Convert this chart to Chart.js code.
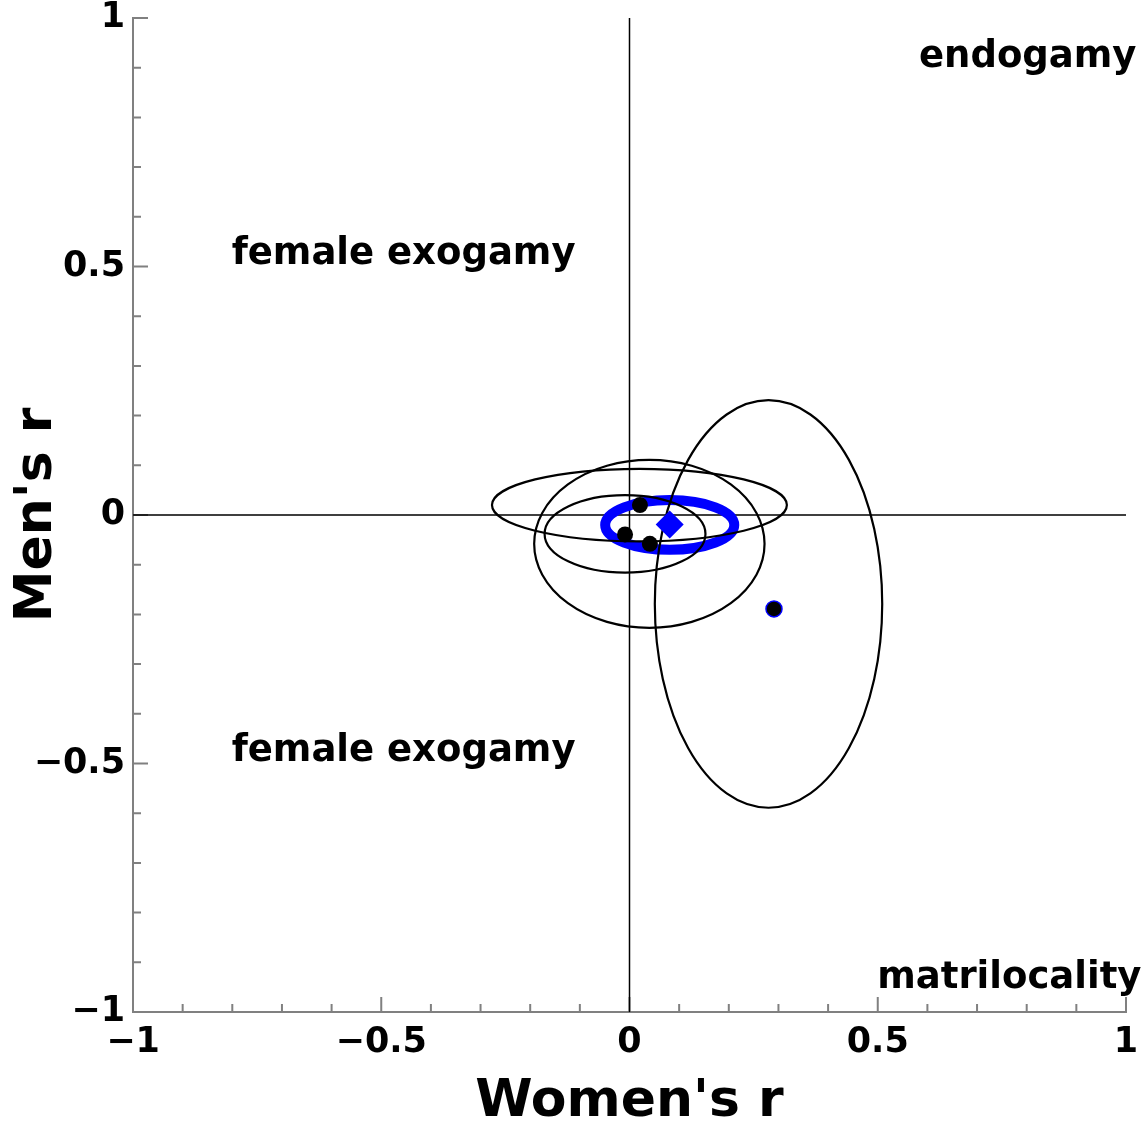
<!DOCTYPE html>
<html>
<head>
<meta charset="utf-8">
<script src="https://cdn.jsdelivr.net/npm/chart.js@4.4.0/dist/chart.umd.min.js"></script>
<style>
  body { margin: 0; background: #fff; }
  #wrap { width: 1144px; height: 1123px; }
</style>
</head>
<body>
<div id="wrap"><canvas id="chart" width="1144" height="1123"></canvas></div>
<script>
// Women's r vs Men's r, population estimates with confidence ellipses

// black population ellipses (centre and half-widths, in r units)
const ellipseCenterX = [0.280, 0.020, 0.040, -0.009];
const ellipseCenterY = [-0.179, 0.020, -0.058, -0.038];
const ellipseRadiusX = [0.229, 0.297, 0.232, 0.162];
const ellipseRadiusY = [0.410, 0.073, 0.169, 0.078];

// blue ellipse round the overall mean
const meanEllipseCenter = [0.081, -0.020];
const meanEllipseRadius = [0.130, 0.050];

// population points
const popX = [0.021, -0.009, 0.041];
const popY = [0.020, -0.039, -0.058];
const outlierX = [0.291];
const outlierY = [-0.189];
const meanX = [0.081];
const meanY = [-0.019];

const tickValues = [-1, -0.5, 0, 0.5, 1];

// region labels
const regionText = ['endogamy', 'female exogamy', 'female exogamy', 'matrilocality'];
const regionX = [0.802, -0.455, -0.455, 0.765];
const regionY = [0.902, 0.506, -0.494, -0.952];

const FONT = "'DejaVu Sans', sans-serif";

function fmtTick(v) {
    if (v === 0) return '0';
    const s = String(Math.abs(v));
    return v < 0 ? '\u2212' + s : s;
}

function toPoints(xs, ys) {
    return xs.map((x, i) => ({ x: x, y: ys[i] }));
}

// zero lines, ellipses, inward ticks and region labels
const overlayPlugin = {
    id: 'overlay',
    beforeDatasetsDraw(chart) {
        const ctx = chart.ctx;
        const xs = chart.scales.x;
        const ys = chart.scales.y;
        const area = chart.chartArea;

        ctx.save();

        // inward tick marks, minor every 0.1
        ctx.strokeStyle = '#808080';
        ctx.lineWidth = 2;
        for (let i = -10; i <= 10; i++) {
            const v = i / 10;
            const len = (i % 5 === 0) ? 15 : 8;
            const px = xs.getPixelForValue(v);
            const py = ys.getPixelForValue(v);
            ctx.beginPath();
            ctx.moveTo(px, area.bottom);
            ctx.lineTo(px, area.bottom - len);
            ctx.moveTo(area.left, py);
            ctx.lineTo(area.left + len, py);
            ctx.stroke();
        }

        // zero lines
        ctx.strokeStyle = '#000';
        ctx.lineWidth = 1.5;
        ctx.beginPath();
        ctx.moveTo(xs.getPixelForValue(0), area.top);
        ctx.lineTo(xs.getPixelForValue(0), area.bottom);
        ctx.moveTo(area.left, ys.getPixelForValue(0));
        ctx.lineTo(area.right, ys.getPixelForValue(0));
        ctx.stroke();

        // blue mean ellipse
        const mcx = xs.getPixelForValue(meanEllipseCenter[0]);
        const mcy = ys.getPixelForValue(meanEllipseCenter[1]);
        const mrx = Math.abs(xs.getPixelForValue(meanEllipseCenter[0] + meanEllipseRadius[0]) - mcx);
        const mry = Math.abs(ys.getPixelForValue(meanEllipseCenter[1] + meanEllipseRadius[1]) - mcy);
        ctx.strokeStyle = '#0000ff';
        ctx.lineWidth = 10;
        ctx.beginPath();
        ctx.ellipse(mcx, mcy, mrx, mry, 0, 0, Math.PI * 2);
        ctx.stroke();

        // black ellipses
        ctx.strokeStyle = '#000';
        ctx.lineWidth = 2.2;
        ellipseCenterX.forEach((cx, i) => {
            const px = xs.getPixelForValue(cx);
            const py = ys.getPixelForValue(ellipseCenterY[i]);
            const rx = Math.abs(xs.getPixelForValue(cx + ellipseRadiusX[i]) - px);
            const ry = Math.abs(ys.getPixelForValue(ellipseCenterY[i] + ellipseRadiusY[i]) - py);
            ctx.beginPath();
            ctx.ellipse(px, py, rx, ry, 0, 0, Math.PI * 2);
            ctx.stroke();
        });

        // region labels
        ctx.fillStyle = '#000';
        ctx.font = 'bold 37px ' + FONT;
        ctx.textAlign = 'center';
        ctx.textBaseline = 'alphabetic';
        regionText.forEach((t, i) => {
            ctx.fillText(t, xs.getPixelForValue(regionX[i]), ys.getPixelForValue(regionY[i]));
        });

        ctx.restore();
    }
};

function axisOptions(title, isY) {
    return {
        type: 'linear',
        min: -1,
        max: 1,
        afterBuildTicks: function(scale) {
            scale.ticks = tickValues.map(v => ({ value: v }));
        },
        afterFit: function(scale) {
            if (isY) scale.width = 133;
            else scale.height = 111;
            // keep tick label overhang from moving the plot area
            scale.paddingTop = 0;
            scale.paddingBottom = 0;
            scale.paddingLeft = 0;
            scale.paddingRight = 0;
        },
        grid: { display: false, drawTicks: false },
        border: { display: true, color: '#808080', width: 2 },
        ticks: {
            color: '#000',
            padding: isY ? 8 : 13,
            font: { family: FONT, size: 35, weight: 'bold', lineHeight: 1 },
            callback: fmtTick
        },
        title: {
            display: true,
            text: title,
            color: '#000',
            font: { family: FONT, size: 52, weight: 'bold', lineHeight: 0.8 },
            padding: isY ? { top: 17, bottom: 0 } : { top: 0, bottom: 0 }
        }
    };
}

new Chart(document.getElementById('chart'), {
    type: 'scatter',
    data: {
        datasets: [
            {
                data: toPoints(meanX, meanY),
                pointStyle: 'rectRot',
                pointRadius: 14,
                backgroundColor: '#0000ff',
                borderColor: '#0000ff',
                borderWidth: 0
            },
            {
                data: toPoints(popX, popY),
                pointRadius: 8,
                backgroundColor: '#000',
                borderColor: '#000',
                borderWidth: 0
            },
            {
                data: toPoints(outlierX, outlierY),
                pointRadius: 8,
                backgroundColor: '#000',
                borderColor: '#0000ff',
                borderWidth: 1.5
            }
        ]
    },
    options: {
        responsive: false,
        animation: false,
        devicePixelRatio: 1,
        layout: { padding: { top: 18, right: 18, left: 0, bottom: 0 } },
        plugins: {
            legend: { display: false },
            tooltip: { enabled: false }
        },
        scales: {
            x: axisOptions("Women's r", false),
            y: axisOptions("Men's r", true)
        }
    },
    plugins: [overlayPlugin]
});
</script>
</body>
</html>
